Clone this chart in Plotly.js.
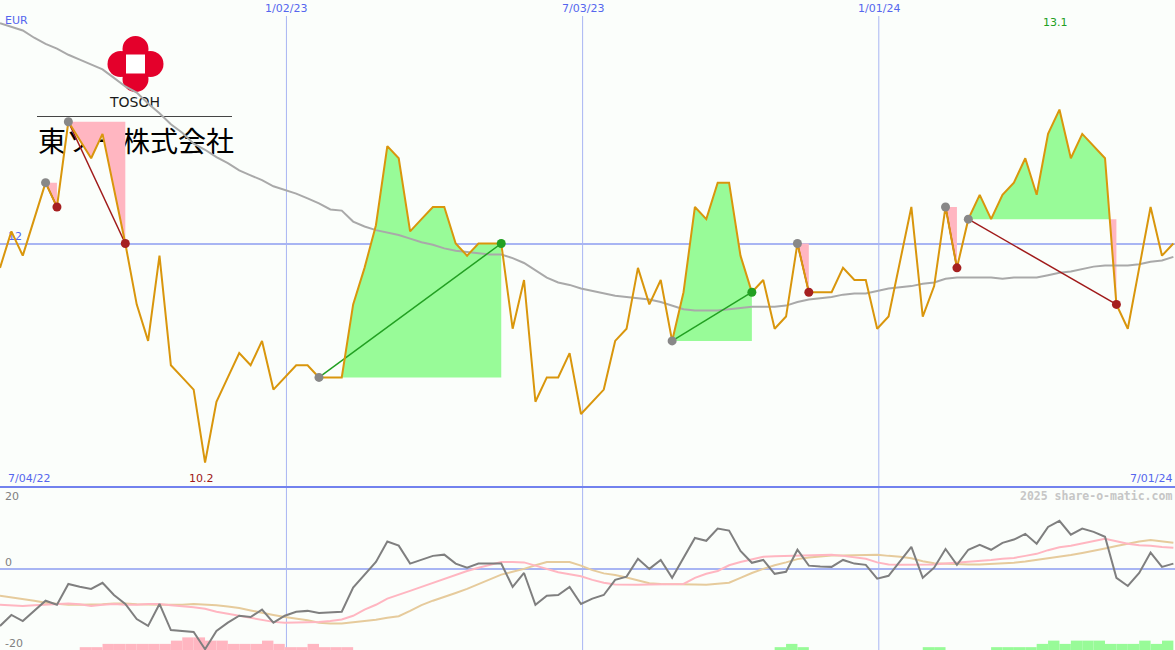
<!DOCTYPE html>
<html><head><meta charset="utf-8">
<script src="https://cdn.plot.ly/plotly-3.0.1.min.js"></script>
<style>html,body{margin:0;padding:0;background:#fbfefb;}#chart{width:1175px;height:650px;}</style>
</head><body><div id="chart"></div>
<script>
// ---------- data ----------
const startDate = '2022-07-10';
const currency = 'EUR';
const price = [
 11.8,12.1,11.9,12.2,12.5,12.3,13.0,12.85,12.7,12.9,
 12.45,12.0,11.5,11.2,11.9,11.0,10.9,10.8,10.2,10.7,
 10.9,11.1,11.0,11.2,10.8,10.9,11.0,11.0,10.9,10.9,
 10.9,11.5,11.8,12.15,12.8,12.7,12.1,12.2,12.3,12.3,
 12.0,11.9,12.0,12.0,12.0,11.3,11.7,10.7,10.9,10.9,
 11.1,10.6,10.7,10.8,11.2,11.3,11.8,11.5,11.7,11.2,
 11.6,12.3,12.2,12.5,12.5,11.9,11.6,11.7,11.3,11.4,
 12.0,11.6,11.6,11.6,11.8,11.7,11.7,11.3,11.4,11.85,
 12.3,11.4,11.65,12.3,11.8,12.2,12.4,12.2,12.4,12.5,
 12.7,12.4,12.9,13.1,12.7,12.9,12.8,12.7,11.5,11.3,
 11.8,12.3,11.9,12.0];
const movingAvg = [
 13.81,13.78,13.75,13.69,13.64,13.60,13.55,13.51,13.47,13.43,
 13.36,13.29,13.24,13.15,13.07,12.98,12.91,12.82,12.77,12.71,
 12.66,12.60,12.56,12.52,12.47,12.44,12.41,12.37,12.33,12.28,
 12.27,12.18,12.14,12.11,12.09,12.07,12.04,12.01,11.99,11.96,
 11.94,11.93,11.92,11.91,11.91,11.88,11.84,11.78,11.72,11.68,
 11.66,11.63,11.61,11.59,11.57,11.56,11.55,11.54,11.52,11.49,
 11.46,11.45,11.45,11.45,11.46,11.47,11.48,11.48,11.48,11.49,
 11.52,11.54,11.55,11.56,11.58,11.59,11.59,11.61,11.63,11.64,
 11.65,11.67,11.68,11.71,11.72,11.72,11.72,11.72,11.71,11.72,
 11.72,11.72,11.74,11.76,11.77,11.79,11.81,11.82,11.82,11.82,
 11.83,11.85,11.86,11.89];
const momentum = [
 -14.1,-11.4,-12.9,-10.4,-7.9,-8.9,-3.8,-4.5,-5.0,-3.5,
 -6.5,-8.7,-12.4,-14.1,-8.7,-15.1,-15.3,-15.6,-19.8,-15.3,
 -13.3,-11.6,-11.9,-10.1,-13.3,-11.6,-10.6,-10.4,-10.9,-10.8,
 -10.6,-4.7,-1.5,1.6,6.6,5.6,1.2,2.1,3.1,3.4,
 1.2,0.2,1.2,1.2,1.2,-4.5,-1.1,-8.9,-6.7,-6.5,
 -4.5,-8.7,-7.4,-6.5,-2.8,-2.0,2.4,-0.1,2.1,-2.3,
 2.6,7.5,6.8,9.8,9.3,4.3,1.4,2.1,-1.3,-0.8,
 4.6,0.7,0.5,0.4,2.1,1.2,0.9,-2.5,-1.8,1.9,
 5.3,-2.3,0.2,4.8,0.9,4.6,5.8,4.6,6.3,7.1,
 8.5,6.1,10.2,11.7,8.3,9.8,9.0,7.8,-2.3,-4.3,
 -1.1,3.9,0.4,1.2];
const signalFast = [
 -8.9,-9.0,-9.2,-9.0,-8.9,-8.7,-8.6,-8.8,-9.2,-8.9,
 -8.7,-8.9,-8.9,-8.7,-8.7,-9.0,-9.2,-9.5,-9.9,-10.6,
 -11.1,-11.6,-12.1,-12.6,-13.1,-13.3,-13.3,-13.2,-13.1,-12.9,
 -12.5,-11.6,-10.1,-8.9,-7.4,-6.5,-5.5,-4.5,-3.5,-2.5,
 -1.5,-0.6,0.2,0.9,1.6,1.6,1.5,0.7,-0.1,-0.9,
 -1.4,-1.9,-2.8,-3.5,-3.9,-4.0,-4.0,-3.9,-3.9,-3.8,
 -3.8,-2.3,-1.3,-0.6,0.8,1.6,2.3,2.9,3.0,3.1,
 3.1,3.2,3.4,3.4,3.1,2.8,2.4,1.5,1.0,0.9,
 0.9,0.9,1.0,1.2,1.4,1.6,1.9,2.1,2.4,2.6,
 3.1,3.6,4.5,5.2,5.6,6.2,6.8,7.3,6.7,6.1,
 5.7,5.6,5.3,5.1];
const signalSlow = [
 -6.7,-7.1,-7.4,-7.9,-8.4,-8.7,-8.9,-8.9,-8.9,-8.8,
 -8.6,-8.6,-8.8,-8.9,-8.9,-8.9,-8.9,-8.7,-8.8,-9.0,
 -9.3,-9.7,-10.3,-10.9,-11.4,-11.9,-12.3,-12.7,-13.3,-13.5,
 -13.5,-13.2,-12.9,-12.6,-12.1,-11.7,-10.4,-9.0,-7.9,-7.0,
 -6.0,-5.0,-3.8,-2.5,-1.5,-0.8,-0.1,0.8,1.6,1.6,
 1.6,0.7,-0.4,-1.2,-1.6,-2.2,-2.9,-3.6,-3.8,-3.8,
 -3.9,-3.9,-4.0,-3.8,-3.5,-2.3,-1.1,-0.1,0.8,1.5,
 2.3,2.7,3.0,3.2,3.2,3.3,3.3,3.4,3.1,2.9,
 2.5,1.8,1.3,1.2,1.0,1.0,1.0,1.1,1.2,1.4,
 1.7,2.1,2.4,2.9,3.3,3.8,4.3,4.9,5.5,6.1,
 6.6,7.0,6.7,6.3];
const lossBars = [
 0,0,0,0,0,0,0,0.7,0.7,1.5,
 1.5,1.5,1.5,1.5,1.5,2.3,3.1,3.1,2.3,2.3,
 1.5,1.5,1.5,2.3,1.5,0.7,0.7,1.5,0.7,0.7,
 0.7,0,0,0,0,0,0,0,0,0,
 0,0,0,0,0,0,0,0,0,0,
 0,0,0,0,0,0,0,0,0,0,
 0,0,0,0,0,0,0,0,0,0,
 0,0,0,0,0,0,0,0,0,0,
 0,0,0,0,0,0,0,0,0,0,
 0,0,0,0,0,0,0,0,0,0,
 0,0,0,0];
const gainBars = [
 0,0,0,0,0,0,0,0,0,0,
 0,0,0,0,0,0,0,0,0,0,
 0,0,0,0,0,0,0,0,0,0,
 0,0,0,0,0,0,0,0,0,0,
 0,0,0,0,0,0,0,0,0,0,
 0,0,0,0,0,0,0,0,0,0,
 0,0,0,0,0,0,0,0,0.7,1.5,
 0.7,0,0,0,0,0,0,0,0,0,
 0,0.7,0.7,0,0,0,0,0.7,0.7,0.7,
 0.7,1.5,2.3,1.5,2.3,2.3,2.3,1.5,1.5,1.5,
 2.3,1.5,2.3,0];
const tradeEntry = [4, 6, 28, 59, 70, 83, 85];
const tradeExit  = [5, 11, 44, 66, 71, 84, 98];
const gridDates  = ['2023-01-02', '2023-07-03', '2024-01-01'];
const gridLabels = ['1/02/23', '7/03/23', '1/01/24'];
const rangeLabels = ['7/04/22', '7/01/24'];
const axisRange = ['2022-07-10', '2024-07-01'];
const lowerLabels = ['20', '0', '-20'];
const credit = '2025 share-o-matic.com';
const logoName = 'TOSOH';
const logoJa = '東ソー株式会社';

// ---------- helpers ----------
const W = 1175, H = 650;
const px = v => v / W, py = v => 1 - v / H;
const DAY = 864e5;
const t0 = Date.parse(startDate + 'T00:00:00Z');
const fmt = ms => new Date(ms).toISOString().replace('T', ' ').slice(0, 19);
const weeks = price.map((_, i) => fmt(t0 + i * 7 * DAY).slice(0, 10));
const tms = i => t0 + i * 7 * DAY;

const BLUE = '#5566ee', GRID = '#a8b5f3', SEP = '#7282ee';
const ORANGE = '#d9960c', PINK = '#ffb6c1', GREEN = '#98fb98';
const FONT = 'DejaVu Sans';

function tradeFill(e, x, above, color) {
  const L = price[e];
  const xs = [], ys = [];
  let any = false;
  for (let j = e; j <= x; j++) {
    const p = price[j];
    if (j > e) {
      const q = price[j - 1];
      if ((q - L) * (p - L) < 0) {
        const f = (L - q) / (p - q);
        xs.push(fmt(tms(j - 1) + f * (tms(j) - tms(j - 1)))); ys.push(L);
      }
    }
    const v = above ? Math.max(p, L) : Math.min(p, L);
    if (v !== L) any = true;
    xs.push(weeks[j]); ys.push(v);
  }
  xs.push(weeks[x]); ys.push(L);
  xs.push(weeks[e]); ys.push(L);
  if (!any) return null;
  return {x: xs, y: ys, type: 'scatter', mode: 'lines', fill: 'toself',
    fillcolor: color, line: {width: 0}, hoverinfo: 'skip', showlegend: false, xaxis: 'x', yaxis: 'y'};
}

const traces = [];
// fills
tradeEntry.forEach((e, k) => {
  const g = tradeFill(e, tradeExit[k], true, GREEN); if (g) traces.push(g);
  const r = tradeFill(e, tradeExit[k], false, PINK); if (r) traces.push(r);
});
// moving average
traces.push({x: weeks, y: movingAvg, type: 'scatter', mode: 'lines',
  line: {color: '#a9a9a9', width: 2}, xaxis: 'x', yaxis: 'y'});
// trade connecting lines
tradeEntry.forEach((e, k) => {
  const x = tradeExit[k];
  const win = price[x] > price[e];
  traces.push({x: [weeks[e], weeks[x]], y: [price[e], price[x]], type: 'scatter', mode: 'lines',
    line: {color: win ? '#22a022' : '#a01a1a', width: 1.5}, xaxis: 'x', yaxis: 'y'});
});
// price
traces.push({x: weeks, y: price, type: 'scatter', mode: 'lines',
  line: {color: ORANGE, width: 2}, xaxis: 'x', yaxis: 'y'});
// markers
traces.push({x: tradeEntry.map(i => weeks[i]), y: tradeEntry.map(i => price[i]), type: 'scatter', mode: 'markers',
  marker: {color: '#888888', size: 9}, xaxis: 'x', yaxis: 'y'});
traces.push({x: tradeExit.map(i => weeks[i]), y: tradeExit.map(i => price[i]), type: 'scatter', mode: 'markers',
  marker: {color: tradeExit.map((x, k) => price[x] > price[tradeEntry[k]] ? '#22a022' : '#a52020'), size: 9},
  xaxis: 'x', yaxis: 'y'});

// lower panel
const barW = 7 * DAY;
traces.push({x: weeks, y: lossBars, base: -20, type: 'bar', width: barW, offset: 0,
  marker: {color: PINK, line: {width: 0}}, xaxis: 'x', yaxis: 'y2'});
traces.push({x: weeks, y: gainBars, base: -20, type: 'bar', width: barW, offset: 0,
  marker: {color: GREEN, line: {width: 0}}, xaxis: 'x', yaxis: 'y2'});
traces.push({x: weeks, y: signalSlow, type: 'scatter', mode: 'lines',
  line: {color: '#e6cb9c', width: 2}, xaxis: 'x', yaxis: 'y2'});
traces.push({x: weeks, y: signalFast, type: 'scatter', mode: 'lines',
  line: {color: PINK, width: 2}, xaxis: 'x', yaxis: 'y2'});
traces.push({x: weeks, y: momentum, type: 'scatter', mode: 'lines',
  line: {color: '#7f7f7f', width: 2}, xaxis: 'x', yaxis: 'y2'});

// ---------- shapes ----------
const shapes = [];
gridDates.forEach(d => shapes.push({type: 'line', xref: 'x', yref: 'paper', x0: d, x1: d,
  y0: 0, y1: py(16), line: {color: GRID, width: 1}, layer: 'below'}));
shapes.push({type: 'line', xref: 'paper', yref: 'paper', x0: 0, x1: 1, y0: py(487), y1: py(487),
  line: {color: SEP, width: 2}, layer: 'above'});
// logo
const cx = 135.5, cy = 64, off = 15, rr = 13;
const RED = '#e4002b';
[[0, -off], [0, off], [-off, 0], [off, 0]].forEach(([dx, dy]) => shapes.push({
  type: 'circle', xref: 'paper', yref: 'paper', layer: 'below',
  x0: px(cx + dx - rr), x1: px(cx + dx + rr), y0: py(cy + dy + rr), y1: py(cy + dy - rr),
  fillcolor: RED, line: {width: 0}}));
shapes.push({type: 'rect', xref: 'paper', yref: 'paper', layer: 'below',
  x0: px(cx - 13), x1: px(cx + 13), y0: py(cy + 13), y1: py(cy - 13), fillcolor: RED, line: {width: 0}});
shapes.push({type: 'rect', xref: 'paper', yref: 'paper', layer: 'below',
  x0: px(cx - 9.5), x1: px(cx + 9.5), y0: py(cy + 9.5), y1: py(cy - 9.5), fillcolor: '#ffffff', line: {width: 0}});
shapes.push({type: 'rect', xref: 'paper', yref: 'paper', layer: 'below',
  x0: px(100), x1: px(170), y0: py(110), y1: py(92), fillcolor: 'rgba(0,0,0,0)', line: {width: 0},
  label: {text: logoName, font: {family: FONT, size: 14, color: '#1a1a1a'}, textposition: 'middle center'}});
shapes.push({type: 'line', xref: 'paper', yref: 'paper', layer: 'below',
  x0: px(37), x1: px(232), y0: py(116.5), y1: py(116.5), line: {color: '#444', width: 1}});
shapes.push({type: 'rect', xref: 'paper', yref: 'paper', layer: 'below',
  x0: px(30), x1: px(242), y0: py(162), y1: py(126), fillcolor: 'rgba(0,0,0,0)', line: {width: 0},
  label: {text: logoJa, font: {family: 'Noto Sans CJK JP', size: 28, color: '#000'}, textposition: 'middle center'}});

// ---------- annotations ----------
const ann = [];
const A = (o) => ann.push(Object.assign({showarrow: false, yanchor: 'middle', font: {family: FONT, size: 11, color: BLUE}}, o));
A({xref: 'paper', yref: 'paper', x: px(3), y: py(21), xanchor: 'left', text: currency});
gridDates.forEach((d, k) => A({xref: 'x', yref: 'paper', x: d, y: py(8), xanchor: 'center', text: gridLabels[k]}));
let imax = 0, imin = 0;
price.forEach((v, i) => { if (v > price[imax]) imax = i; if (v < price[imin]) imin = i; });
A({xref: 'x', yref: 'paper', x: weeks[imax], y: py(22), xanchor: 'center', xshift: -4, text: price[imax].toFixed(1),
  font: {family: FONT, size: 11, color: '#22a022'}});
A({xref: 'x', yref: 'paper', x: weeks[imin], y: py(478), xanchor: 'center', xshift: -4, text: price[imin].toFixed(1),
  font: {family: FONT, size: 11, color: '#a01818'}});
A({xref: 'paper', yref: 'paper', x: px(6), y: py(478), xanchor: 'left', text: rangeLabels[0]});
A({xref: 'paper', yref: 'paper', x: px(1174), y: py(478), xanchor: 'right', text: rangeLabels[1]});
A({xref: 'paper', yref: 'paper', x: px(1174), y: py(496), xanchor: 'right', text: '<b>' + credit + '</b>',
  font: {family: 'DejaVu Sans Mono', size: 11.5, color: '#c6c6c6'}});
[496, 562, 643].forEach((yy, k) => A({xref: 'paper', yref: 'paper', x: px(3), y: py(yy), xanchor: 'left',
  text: lowerLabels[k], font: {family: FONT, size: 11, color: '#808080'}}));

const split = 163 / 650;
const layout = {
  width: W, height: H, margin: {l: 0, r: 0, t: 0, b: 0},
  paper_bgcolor: '#fbfefb', plot_bgcolor: 'rgba(0,0,0,0)',
  showlegend: false, barmode: 'overlay', hovermode: false,
  xaxis: {type: 'date', range: axisRange, showgrid: false, zeroline: false, showticklabels: false,
    showline: false, ticks: '', anchor: 'y2'},
  yaxis: {domain: [split, 1], range: [10, 14], tickvals: [12], ticktext: ['12'], showgrid: true,
    gridcolor: GRID, gridwidth: 2, zeroline: false, showline: false, ticks: '',
    ticklabelposition: 'inside top', ticklabelstandoff: 5, tickfont: {family: FONT, size: 11, color: BLUE},
    layer: 'below traces', anchor: 'x'},
  yaxis2: {domain: [0, split], range: [-20, 20], tickvals: [0], showticklabels: false, showgrid: true,
    gridcolor: GRID, gridwidth: 2, zeroline: false, showline: false, ticks: '', anchor: 'x'},
  shapes: shapes, annotations: ann
};
Plotly.newPlot('chart', traces, layout, {staticPlot: true, displayModeBar: false});
</script></body></html>
